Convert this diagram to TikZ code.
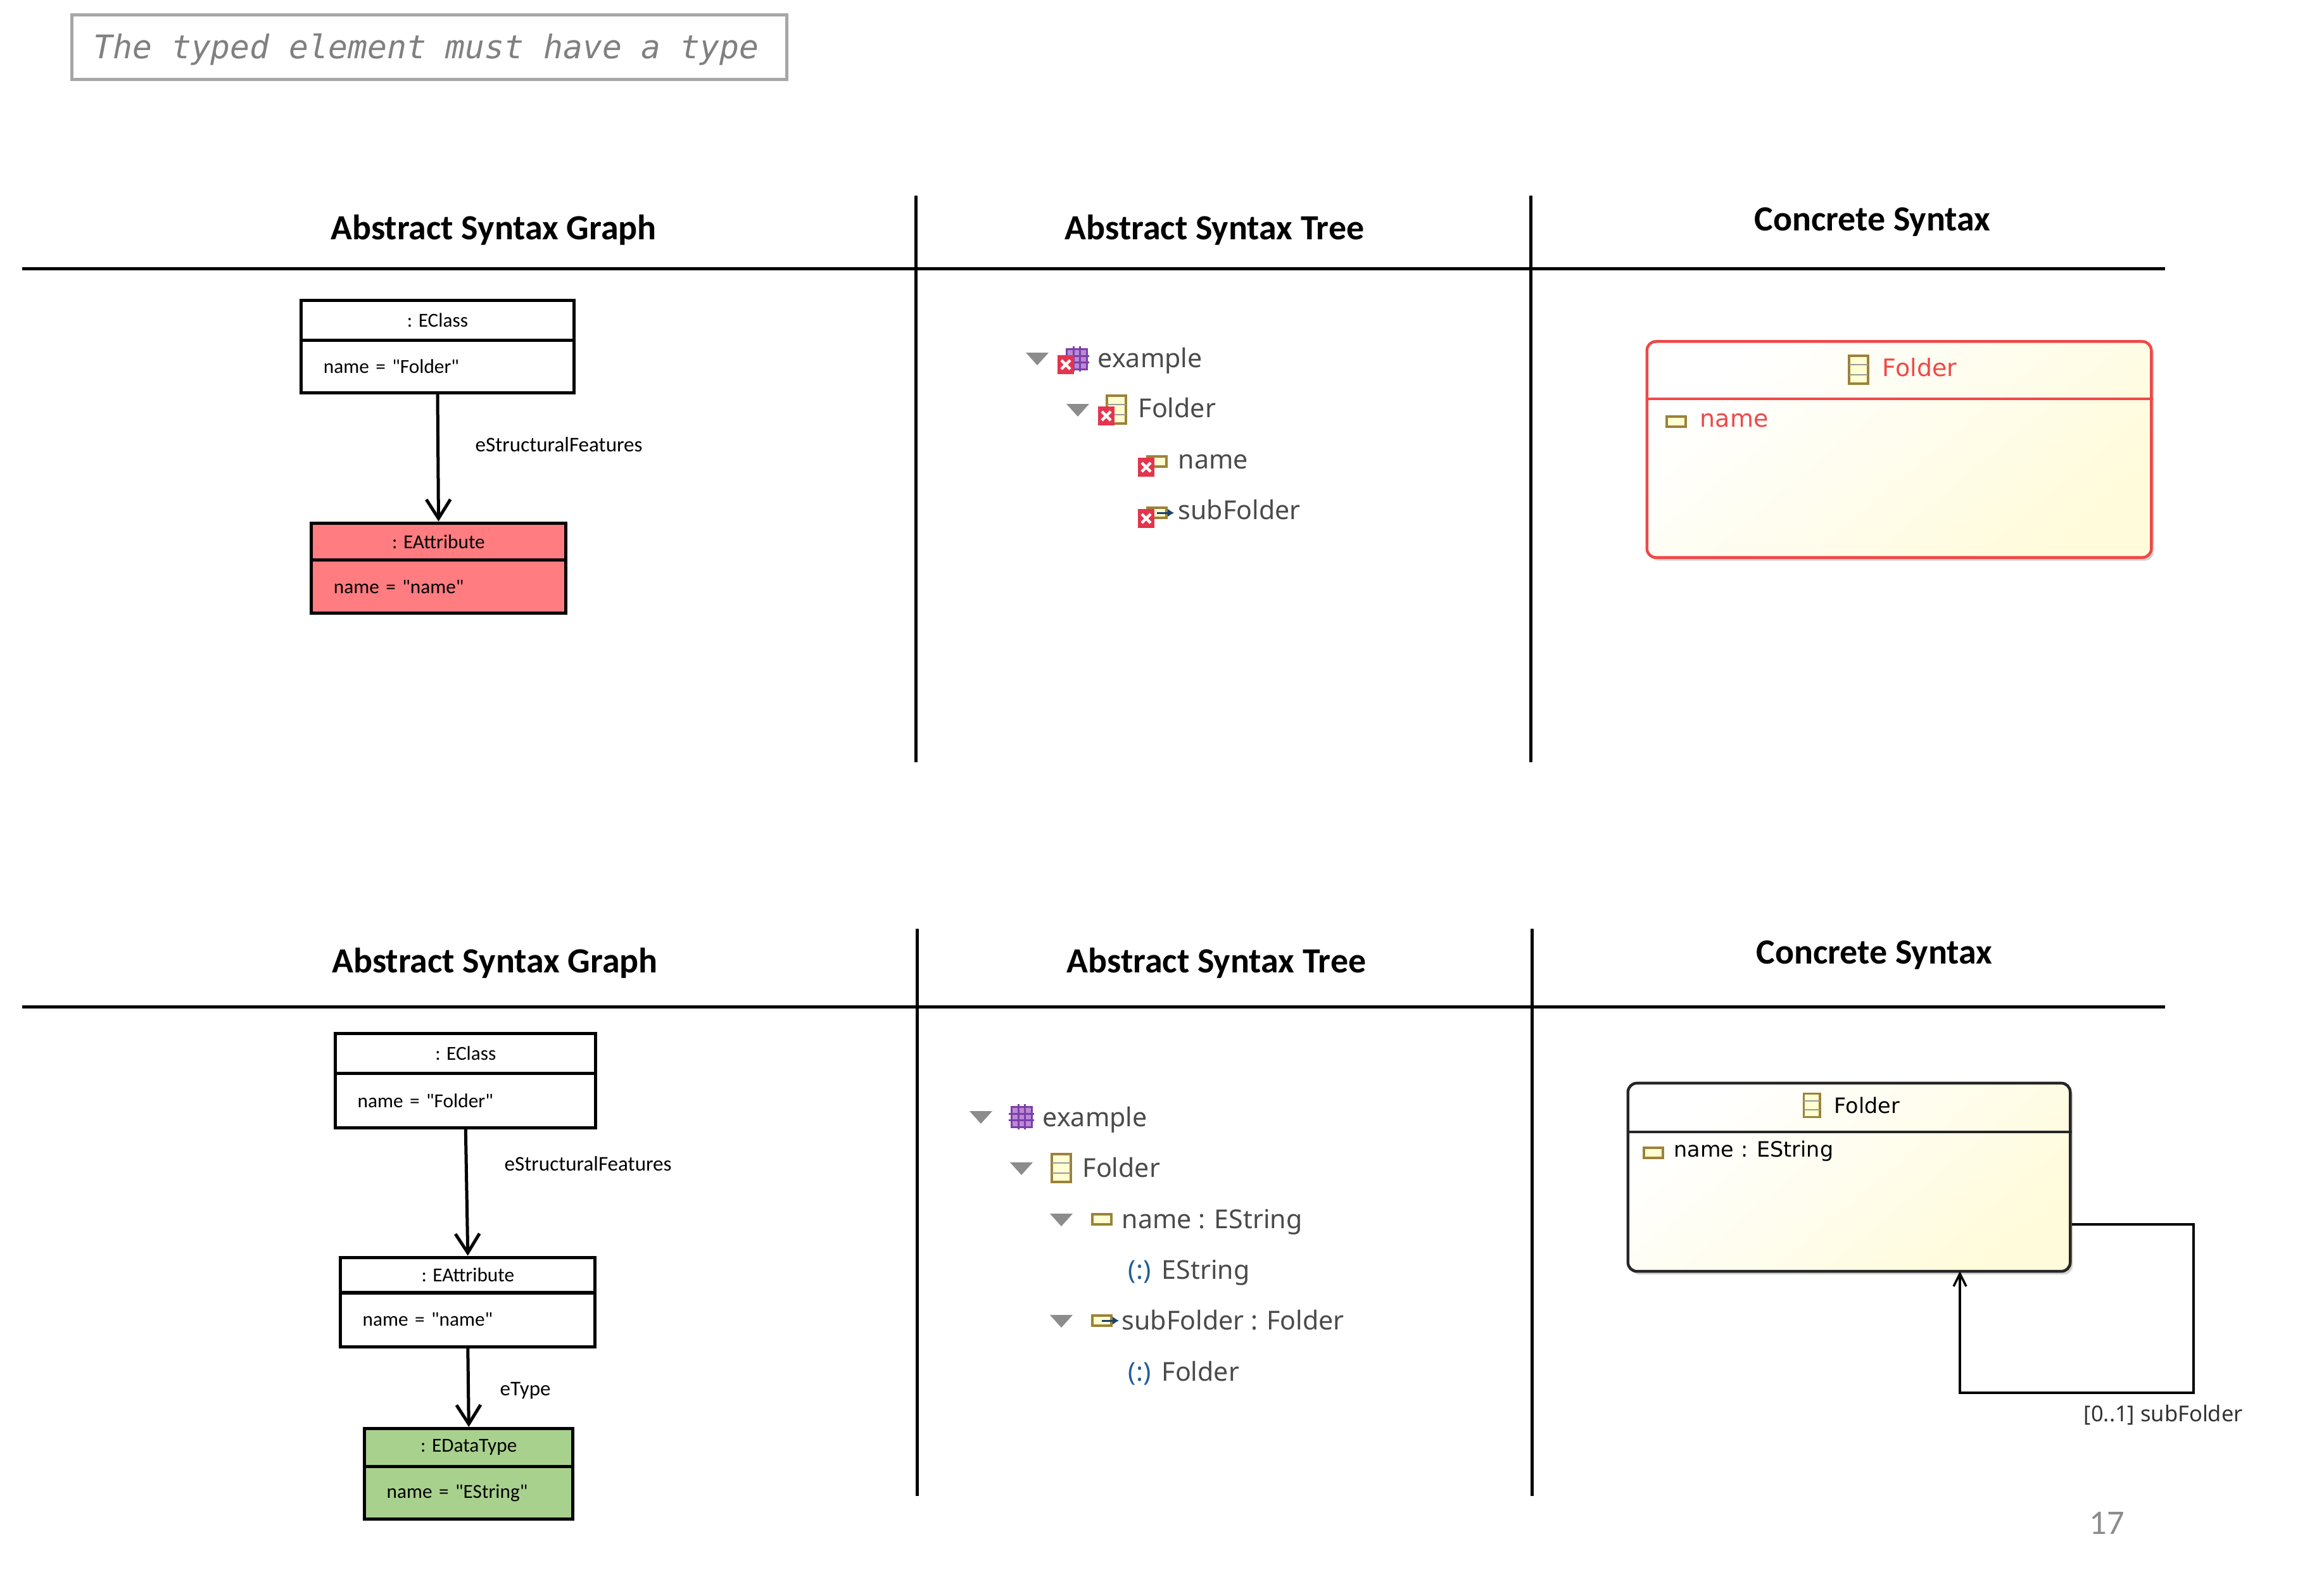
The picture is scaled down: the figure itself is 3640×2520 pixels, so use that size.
\documentclass[tikz,border=0pt]{standalone}
\usepackage{fontspec}
\setmainfont{Carlito}[Ligatures=TeXOff]
\newfontfamily\treefont{Noto Sans}
\newfontfamily\diafont{DejaVu Sans}
\newfontfamily\notefont{DejaVu Sans Mono}
\usetikzlibrary{arrows.meta,shadows}
\definecolor{iconline}{HTML}{9C8238}
\definecolor{iconfill}{HTML}{FFFFD2}
\definecolor{errred}{HTML}{E2354E}
\definecolor{pkgline}{HTML}{7D3FA8}
\definecolor{pkgfill}{HTML}{B98AD6}
\definecolor{redline}{HTML}{F04848}
\definecolor{treegray}{HTML}{4A4A4A}
\definecolor{blueref}{HTML}{1F5F99}
\definecolor{yellowend}{HTML}{FFFBDB}
\definecolor{redbox}{HTML}{FF7C80}
\definecolor{greenbox}{HTML}{A9D18E}
\tikzset{
	rule/.style={line width=0.05cm},
	title/.style={font=\bfseries\fontsize{15.9}{19}\selectfont, inner sep=0},
	objhead/.style={draw, line width=0.05cm, inner sep=0, font=\fontsize{8.9}{11}\selectfont},
	objbody/.style={draw, line width=0.05cm, inner xsep=0.35cm, inner ysep=0, align=left, font=\fontsize{8.9}{11}\selectfont},
	edgelabel/.style={anchor=base west, inner sep=0, font=\fontsize{9.4}{11}\selectfont},
	refedge/.style={line width=0.05cm, line cap=round, -{Straight Barb[length=0.3cm,width=0.38cm,line width=0.05cm]}},
	treetext/.style={anchor=base west, inner sep=0, text=treegray, font=\treefont\fontsize{11.7}{14}\selectfont},
	diatext/.style={anchor=base west, inner sep=0, font=\diafont\fontsize{10.8}{13}\selectfont},
	diasmall/.style={anchor=base west, inner sep=0, font=\diafont\fontsize{9.5}{12}\selectfont},
	diabox/.style={draw, rounded corners=0.14cm, line width=0.045cm, top color=white, bottom color=yellowend, shading angle=40, drop shadow={shadow xshift=0.04cm, shadow yshift=-0.05cm, opacity=0.35, fill=gray}},
	twisty/.style={fill=black!45, draw=none},
}
\def\twistyicon(#1,#2){\fill[twisty] ({#1-18},{#2-10}) -- ({#1+18},{#2-10}) -- (#1,{#2+10}) -- cycle;}
\def\classicon(#1,#2,#3){\begin{scope}[shift={(#1,#2)}, scale=#3]
	\draw[iconline, line width=0.035cm, fill=iconfill] (-15,-22) rectangle (15,22);
	\draw[black!40, line width=0.025cm] (-15,-8) -- (15,-8);
	\draw[black!40, line width=0.025cm] (-15,8) -- (15,8);
\end{scope}}
\def\attricon(#1,#2){\draw[iconline, line width=0.035cm, fill=iconfill] ({#1-15},{#2-8}) rectangle ({#1+15},{#2+8});}
\def\reficon(#1,#2){\attricon(#1,#2)
	\draw[blueref!70!black, line width=0.03cm, -{Latex[length=0.1cm,width=0.13cm]}] (#1,#2) -- ({#1+27},#2);}
\def\pkgicon(#1,#2){\begin{scope}[shift={(#1,#2)}]
	\draw[pkgline, line width=0.03cm, fill=pkgfill] (-16,-16) rectangle (16,16);
	\draw[pkgline, line width=0.03cm] (-5,-20) -- (-5,20) (5,-20) -- (5,20) (-20,-5) -- (20,-5) (-20,5) -- (20,5);
\end{scope}}
\def\erricon(#1,#2){\begin{scope}[shift={(#1,#2)}]
	\fill[errred] (-13,-15) rectangle (13,15);
	\draw[white, line width=0.045cm] (-7,-7) -- (7,7) (-7,7) -- (7,-7);
\end{scope}}

\begin{document}
\begin{tikzpicture}[x=0.01cm, y=-0.01cm]
	\useasboundingbox (0,0) rectangle (3640,2520);
	
	%%%%% NOTE %%%%%
	\node[draw=black!35, line width=0.05cm, minimum width=11.28cm, minimum height=1.01cm] (note) at (678,74.5) {};
	\node[inner sep=0, text=black!50, font=\notefont\itshape\fontsize{14.6}{17}\selectfont] (notetext) at (673,78) {The typed element must have a type};
	
	%%%%% TOP ROW %%%%%
	\draw[rule] (35,424) -- (3419,424);
	\draw[rule] (1446,309) -- (1446,1204);
	\draw[rule] (2417,309) -- (2417,1204);
	\node[title] (titlegraphA) at (779.5,363) {Abstract Syntax Graph};
	\node[title] (titletreeA) at (1918,363) {Abstract Syntax Tree};
	\node[title] (titlesyntaxA) at (2957,351) {Concrete Syntax};
	
	\node[objhead, minimum width=4.30cm, minimum height=0.63cm] (eclassheadA) at (691,506) {: EClass};
	\node[objbody, minimum height=0.835cm, text width=3.60cm] (eclassA) at (691,579.1) {name = "Folder"};
	\node[objhead, fill=redbox, minimum width=4.01cm, minimum height=0.59cm] (eattrheadA) at (692.5,855.6) {: EAttribute};
	\node[objbody, fill=redbox, minimum height=0.835cm, text width=3.31cm] (eattrA) at (692.5,926.7) {name = "name"};
	\draw[refedge] (eclassA.south) -- (eattrheadA.north);
	\node[edgelabel] (featuresA) at (750,713) {eStructuralFeatures};
	
	\twistyicon(1638,567)
	\pkgicon(1700,567)
	\erricon(1683,576)
	\node[treetext] (treeexampleA) at (1733,580) {example};
	\twistyicon(1702,648)
	\classicon(1763,647,1)
	\erricon(1747,657)
	\node[treetext] (treefolderA) at (1797,659) {Folder};
	\attricon(1827,729)
	\erricon(1810,738)
	\node[treetext] (treenameA) at (1860,740) {name};
	\reficon(1827,810)
	\erricon(1810,819)
	\node[treetext] (treesubA) at (1860,820) {subFolder};
	
	\node[diabox, draw=redline, minimum width=7.96cm, minimum height=3.41cm] (folderA) at (2999,710) {};
	\draw[redline, line width=0.045cm] (folderA.west |- 0,630) -- (folderA.east |- 0,630);
	\classicon(2935,584,1)
	\node[diatext, text=redline] (foldernameA) at (2972,594) {Folder};
	\attricon(2647,666)
	\node[diatext, text=redline] (attrnameA) at (2684,674) {name};
	
	%%%%% BOTTOM ROW %%%%%
	\draw[rule] (35,1590) -- (3419,1590);
	\draw[rule] (1448,1467) -- (1448,2363);
	\draw[rule] (2419,1467) -- (2419,2363);
	\node[title] (titlegraphB) at (781.5,1521) {Abstract Syntax Graph};
	\node[title] (titletreeB) at (1921,1521) {Abstract Syntax Tree};
	\node[title] (titlesyntaxB) at (2960,1509) {Concrete Syntax};
	
	\node[objhead, minimum width=4.11cm, minimum height=0.63cm] (eclassheadB) at (735.3,1664) {: EClass};
	\node[objbody, minimum height=0.865cm, text width=3.41cm] (eclassB) at (735.3,1738.6) {name = "Folder"};
	\node[objhead, minimum width=4.02cm, minimum height=0.56cm] (eattrheadB) at (738.8,2014) {: EAttribute};
	\node[objbody, minimum height=0.855cm, text width=3.32cm] (eattrB) at (738.8,2084.5) {name = "name"};
	\node[objhead, fill=greenbox, minimum width=3.29cm, minimum height=0.60cm] (edataheadB) at (740.3,2286.4) {: EDataType};
	\node[objbody, fill=greenbox, minimum height=0.835cm, text width=2.59cm] (edataB) at (740.3,2358) {name = "EString"};
	\draw[refedge] (eclassB.south) -- (eattrheadB.north);
	\draw[refedge] (eattrB.south) -- (edataheadB.north);
	\node[edgelabel] (featuresB) at (796,1849) {eStructuralFeatures};
	\node[edgelabel] (etypeB) at (789,2204) {eType};
	
	\twistyicon(1549,1765)
	\pkgicon(1613,1764)
	\node[treetext] (treeexampleB) at (1646,1779) {example};
	\twistyicon(1613,1846)
	\classicon(1676,1845,1)
	\node[treetext] (treefolderB) at (1709,1859) {Folder};
	\twistyicon(1676,1927)
	\attricon(1740,1926)
	\node[treetext] (treenameB) at (1771,1940) {name : EString};
	\node[treetext, text=blueref] (typemarkA) at (1781,2020) {(:)};
	\node[treetext] (treetypeA) at (1834,2020) {EString};
	\twistyicon(1676,2087)
	\reficon(1740,2086)
	\node[treetext] (treesubB) at (1771,2100) {subFolder : Folder};
	\node[treetext, text=blueref] (typemarkB) at (1781,2181) {(:)};
	\node[treetext] (treetypeB) at (1834,2181) {Folder};
	
	\node[diabox, draw=black!85, minimum width=6.98cm, minimum height=2.97cm] (folderB) at (2920,1859.5) {};
	\draw[black!85, line width=0.04cm] (folderB.west |- 0,1788) -- (folderB.east |- 0,1788);
	\classicon(2861,1746,0.85)
	\node[diasmall] (foldernameB) at (2896,1758) {Folder};
	\attricon(2611,1821)
	\node[diasmall] (attrnameB) at (2643,1827) {name : EString};
	
	\coordinate (loopstart) at (folderB.east |- 0,1934);
	\coordinate (loopcorner) at (3464,2200);
	\coordinate (loopend) at (3095,2008);
	\draw[line width=0.035cm, -{Straight Barb[length=0.2cm,width=0.2cm]}] (loopstart) -| (loopcorner) -| (loopend);
	\node[anchor=base west, inner sep=0, text=black!80, font=\treefont\fontsize{9.8}{12}\selectfont] (looplabel) at (3290,2245) {[0..1] subFolder};
	
	\node[inner sep=0, text=black!45, font=\fontsize{15.5}{18}\selectfont] (pagenum) at (3327,2406) {17};
\end{tikzpicture}
\end{document}
